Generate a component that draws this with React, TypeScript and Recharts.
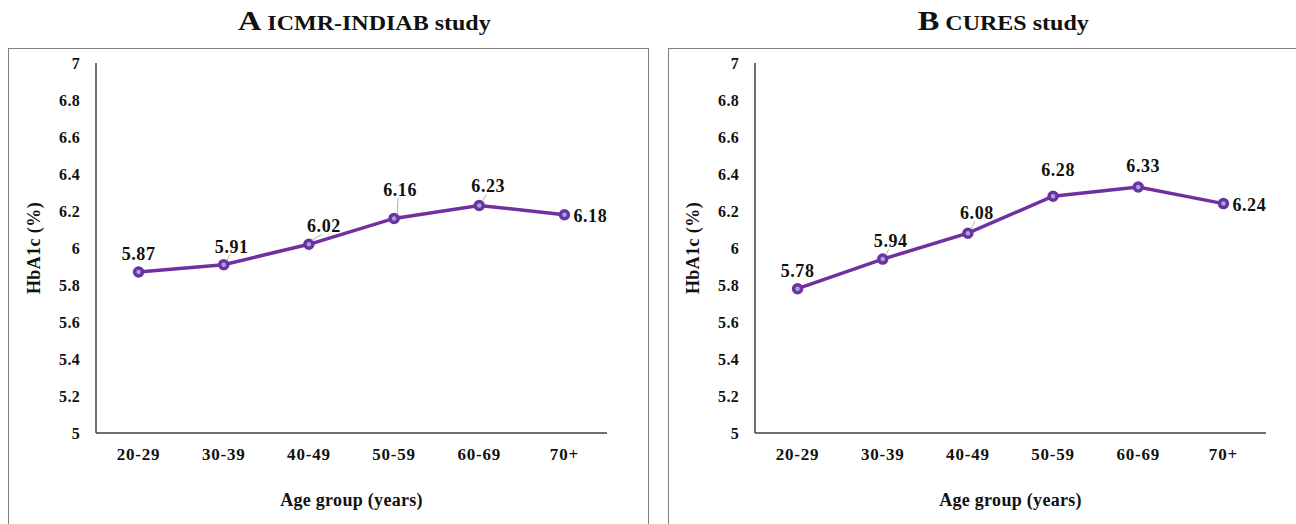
import { LineChart, Line, XAxis, YAxis, LabelList, Label } from 'recharts';

const ageGroups = ['20-29', '30-39', '40-49', '50-59', '60-69', '70+'];
const indiabHbA1c = [5.87, 5.91, 6.02, 6.16, 6.23, 6.18];
const curesHbA1c = [5.78, 5.94, 6.08, 6.28, 6.33, 6.24];
const yTicks = [5, 5.2, 5.4, 5.6, 5.8, 6, 6.2, 6.4, 6.6, 6.8, 7];

const FONT = '"Liberation Serif", "Times New Roman", serif';
const PURPLE = '#7030A0';

// label nudges (dx, dy) per point; last point sits to the right
const offsetsA = [[0, -18], [8, -18], [15, -18], [6, -28], [9, -19]];
const offsetsB = [[0, -18], [8, -18], [9, -20], [5, -26], [5, -21]];

const makeLabel = (offsets: number[][]) => (props: any) => {
  const { x, y, value, index } = props;
  if (index === offsets.length) {
    return (
      <text x={x + 9} y={y + 1} dominantBaseline="central" textAnchor="start"
        fontFamily={FONT} fontWeight="bold" fontSize={18} letterSpacing={0.6} fill="#111">
        {value}
      </text>
    );
  }
  const [dx, dy] = offsets[index];
  return (
    <g>
      {dx >= 6 && (
        <line x1={x + 3} y1={y - 4} x2={x + dx - 2} y2={y + dy + 8} stroke="#b0b0b0" strokeWidth={1} />
      )}
      <text x={x + dx} y={y + dy} dominantBaseline="central" textAnchor="middle"
        fontFamily={FONT} fontWeight="bold" fontSize={18} letterSpacing={0.6} fill="#111">
        {value}
      </text>
    </g>
  );
};

const yLabel = (props: any) => {
  const { x, y, height } = props.viewBox;
  const cx = x - 2;
  const cy = y + height / 2;
  return (
    <text x={cx} y={cy} transform={`rotate(-90 ${cx} ${cy})`} textAnchor="middle" dominantBaseline="central"
      fontFamily={FONT} fontWeight="bold" fontSize={18} letterSpacing={0.4} fill="#111">
      HbA1c (%)
    </text>
  );
};

const xLabel = (props: any) => {
  const { x, y, width } = props.viewBox;
  return (
    <text x={x + width / 2} y={y + 67} textAnchor="middle" dominantBaseline="central"
      fontFamily={FONT} fontWeight="bold" fontSize={18} letterSpacing={0.3} fill="#111">
      Age group  (years)
    </text>
  );
};

type PanelProps = {
  letter: string;
  title: string;
  values: number[];
  left: number;
  boxLeft: number;
  boxWidth: number;
  titleCenter: number;
  offsets: number[][];
};

const Panel = ({ letter, title, values, left, boxLeft, boxWidth, titleCenter, offsets }: PanelProps) => {
  const data = ageGroups.map((g, i) => ({ group: g, value: values[i] }));
  return (
    <>
      <div style={{ position: 'absolute', left: boxLeft, top: 48, width: boxWidth, height: 520, border: '1.5px solid #808080', boxSizing: 'border-box' }} />
      <div style={{ position: 'absolute', left: titleCenter - 200, top: 6, width: 400, textAlign: 'center', fontFamily: FONT, fontWeight: 'bold', color: '#111', whiteSpace: 'nowrap' }}>
        <span style={{ display: 'inline-block', transform: 'scaleX(1.2)' }}>
          <span style={{ fontSize: 27 }}>{letter}</span>
          <span style={{ fontSize: 20 }}> {title}</span>
        </span>
      </div>
      <div style={{ position: 'absolute', left, top: 0 }}>
        <LineChart width={650} height={524} data={data} margin={{ top: 63, right: 43, bottom: 31, left: 36 }}>
          <XAxis dataKey="group" scale="band" height={60} tickLine={false} tickMargin={9} axisLine={{ stroke: '#404040', strokeWidth: 1.5 }}
            tick={{ fontFamily: FONT, fontWeight: 'bold', fontSize: 17, letterSpacing: 0.8, fill: '#111' }} interval={0}>
            <Label content={xLabel} />
          </XAxis>
          <YAxis width={60} domain={[5, 7]} ticks={yTicks} tickLine={false} tickMargin={10} allowDataOverflow
            axisLine={{ stroke: '#404040', strokeWidth: 1.5 }}
            tick={{ fontFamily: FONT, fontWeight: 'bold', fontSize: 16, letterSpacing: 0.3, fill: '#111' }}>
            <Label content={yLabel} />
          </YAxis>
          <Line type="linear" dataKey="value" stroke={PURPLE} strokeWidth={3.5} isAnimationActive={false}
            dot={{ r: 4, stroke: PURPLE, strokeWidth: 3.5, fill: '#8DB3E2' }}>
            <LabelList dataKey="value" content={makeLabel(offsets)} />
          </Line>
        </LineChart>
      </div>
    </>
  );
};

export default function App() {
  return (
    <div style={{ position: 'fixed', left: 0, top: 0, width: 1296, height: 524, overflow: 'hidden', background: '#fff' }}>
      <Panel letter="A" title="ICMR-INDIAB study" values={indiabHbA1c} left={0} boxLeft={8} boxWidth={641}
        titleCenter={364} offsets={offsetsA} />
      <Panel letter="B" title="CURES study" values={curesHbA1c} left={659} boxLeft={668} boxWidth={660}
        titleCenter={1003} offsets={offsetsB} />
    </div>
  );
}
